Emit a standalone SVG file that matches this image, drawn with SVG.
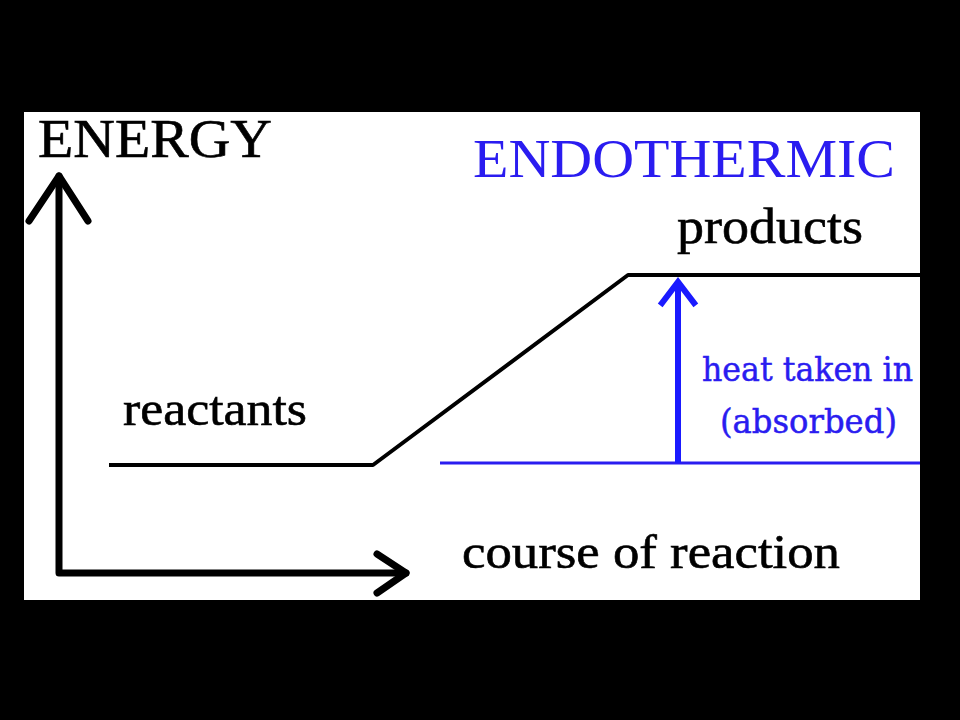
<svg xmlns="http://www.w3.org/2000/svg" width="960" height="720" viewBox="0 0 960 720">
<style>
.t{font-family:"Liberation Serif","Times New Roman",serif;fill:#000;stroke:#000;stroke-width:0.6}
.b{fill:#2a1cf0;stroke:none}
.h{font-family:"DejaVu Serif","Liberation Serif",serif;fill:#2a1cf0;stroke:#2a1cf0;stroke-width:0.5}
.ax{fill:none;stroke:#000;stroke-width:7;stroke-linecap:round;stroke-linejoin:round}
.cv{fill:none;stroke:#000;stroke-width:4;stroke-linejoin:round}
</style>
<rect x="0" y="0" width="960" height="720" fill="#000"/>
<rect x="24" y="112" width="896" height="488" fill="#fff"/>
<g id="connectors">
<path class="ax" d="M59,176 V573 H406"/>
<path class="ax" d="M29,221 L59,176 L88,221"/>
<path class="ax" d="M377,554 L406,573 L377,593"/>
<path class="cv" d="M109,465 H373 L628,275 H920"/>
<line x1="440" y1="463" x2="920" y2="463" stroke="#2a1cf0" stroke-width="3"/>
<line x1="678" y1="463" x2="678" y2="282" stroke="#1a1aff" stroke-width="6"/>
<path d="M662,303 L678,282 L694,303" fill="none" stroke="#1a1aff" stroke-width="6" stroke-linecap="square"/>
</g>
<g id="energy"><text class="t" x="38" y="157" font-size="55" textLength="234" lengthAdjust="spacingAndGlyphs">ENERGY</text></g>
<g id="title"><text class="t b" x="473" y="177" font-size="54" textLength="422" lengthAdjust="spacingAndGlyphs">ENDOTHERMIC</text></g>
<g id="products"><text class="t" x="677" y="243" font-size="50" textLength="186" lengthAdjust="spacingAndGlyphs">products</text></g>
<g id="reactants"><text class="t" x="123" y="425" font-size="48" textLength="184" lengthAdjust="spacingAndGlyphs">reactants</text></g>
<g id="course"><text class="t" x="462" y="568" font-size="48" textLength="378" lengthAdjust="spacingAndGlyphs">course of reaction</text></g>
<g id="heat">
<text class="h" x="702" y="381" font-size="34" textLength="211" lengthAdjust="spacingAndGlyphs">heat taken in</text>
<text class="h" x="720" y="433" font-size="34" textLength="177" lengthAdjust="spacingAndGlyphs">(absorbed)</text>
</g>
</svg>
